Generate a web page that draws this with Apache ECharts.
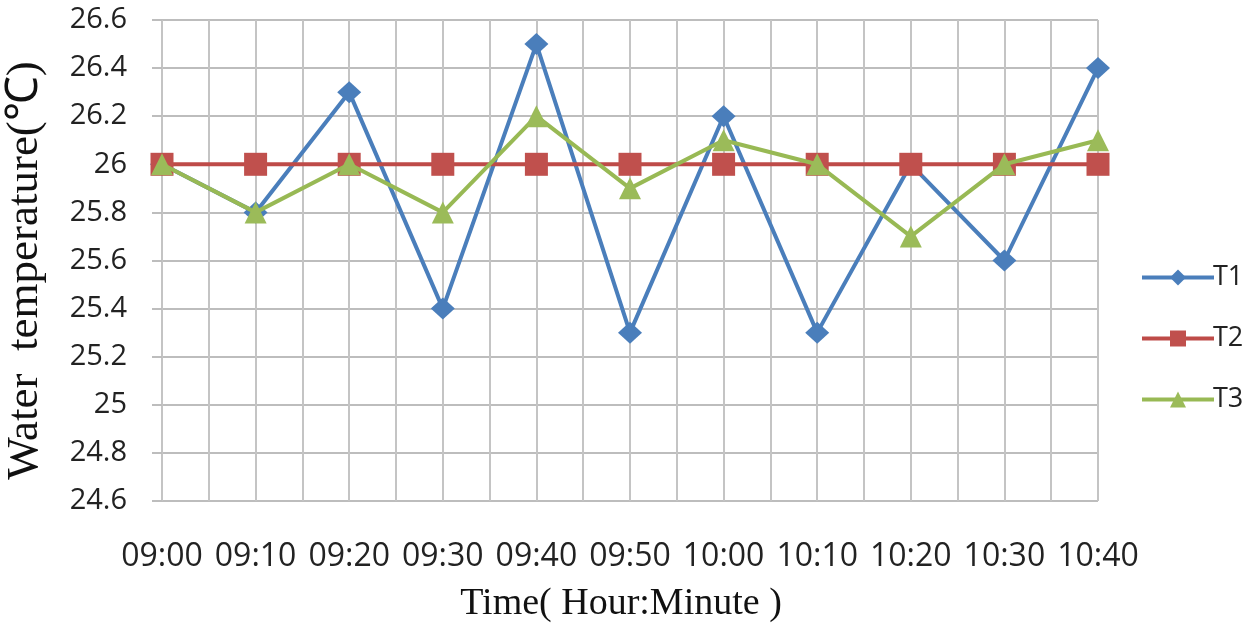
<!DOCTYPE html>
<html><head><meta charset="utf-8">
<script src="https://cdn.jsdelivr.net/npm/echarts@6/dist/echarts.min.js"></script>
<style>html,body{margin:0;padding:0;background:#fff}#c{width:1250px;height:631px}</style>
</head><body><div id="c"></div>
<script>
const categories = ['09:00','09:10','09:20','09:30','09:40','09:50','10:00','10:10','10:20','10:30','10:40'];
const t1 = [26.0, 25.8, 26.3, 25.4, 26.5, 25.3, 26.2, 25.3, 26.0, 25.6, 26.4];
const t2 = [26.0, 26.0, 26.0, 26.0, 26.0, 26.0, 26.0, 26.0, 26.0, 26.0, 26.0];
const t3 = [26.0, 25.8, 26.0, 25.8, 26.2, 25.9, 26.1, 26.0, 25.7, 26.0, 26.1];
const seriesNames = ['T1','T2','T3'];

const chart = echarts.init(document.getElementById('c'), null, {renderer:'canvas'});
const gridCol = '#c4c4c4';
chart.setOption({
  animation: false,
  backgroundColor: '#fff',
  grid: {left: 162, right: 152, top: 20, bottom: 130, containLabel: false, outerBoundsMode: 'none'},
  legend: {
    orient: 'vertical', left: 1135, top: 259, itemWidth: 72, itemHeight: 20, itemGap: 34,
    lineStyle: {width: 4},
    textStyle: {fontFamily: 'Open Sans, Liberation Sans, sans-serif', fontSize: 27, color: '#222', padding:[0,0,0,-6]},
    data: seriesNames
  },
  xAxis: [{
    type: 'category', data: categories, boundaryGap: false,
    axisLine: {show: false}, axisTick: {show: false},
    splitLine: {show: false},
    axisLabel: {fontFamily: 'Open Sans, Liberation Sans, sans-serif', fontSize: 32, color: '#222', margin: 40, interval: 0},
    name: 'Time( Hour:Minute )', nameLocation: 'middle', nameGap: 84,
    nameTextStyle: {fontFamily: 'Liberation Serif, serif', fontSize: 38, color: '#111', padding: [0, 18, 0, 0]}
  },{
    type: 'value', min: 0, max: 20, interval: 1, position: 'bottom',
    axisLine: {show: false}, axisTick: {show: false}, axisLabel: {show: false},
    splitLine: {show: true, lineStyle: {color: gridCol, width: 2}}
  }],
  yAxis: {
    type: 'value', min: 24.6, max: 26.6, interval: 0.2,
    axisLine: {show: false},
    axisTick: {show: true, length: 10, lineStyle: {color: '#bdbdbd', width: 2}},
    splitLine: {show: true, lineStyle: {color: '#bdbdbd', width: 2}},
    axisLabel: {fontFamily: 'Open Sans, Liberation Sans, sans-serif', fontSize: 29, color: '#222', margin: 35,
      formatter: v => String(Math.round(v*10)/10)},
    name: 'Water  temperature(℃)', nameLocation: 'middle', nameGap: 114,
    nameTextStyle: {fontFamily: 'Liberation Serif, serif', fontSize: 45, color: '#111', padding: [0, 20, 0, 0]}
  },
  series: [
    {name: 'T1', type: 'line', data: t1, xAxisIndex: 0, symbol: 'diamond', symbolSize: [24, 22],
     lineStyle: {color: '#4A7EBB', width: 4}, itemStyle: {color: '#4A7EBB'}, z: 2},
    {name: 'T2', type: 'line', data: t2, xAxisIndex: 0, symbol: 'rect', symbolSize: 23,
     lineStyle: {color: '#BE4B48', width: 4}, itemStyle: {color: '#C0504D'}, z: 3},
    {name: 'T3', type: 'line', data: t3, xAxisIndex: 0, symbol: 'triangle', symbolSize: 22,
     lineStyle: {color: '#98B954', width: 4}, itemStyle: {color: '#9BBB59'}, z: 4}
  ]
});
</script></body></html>
